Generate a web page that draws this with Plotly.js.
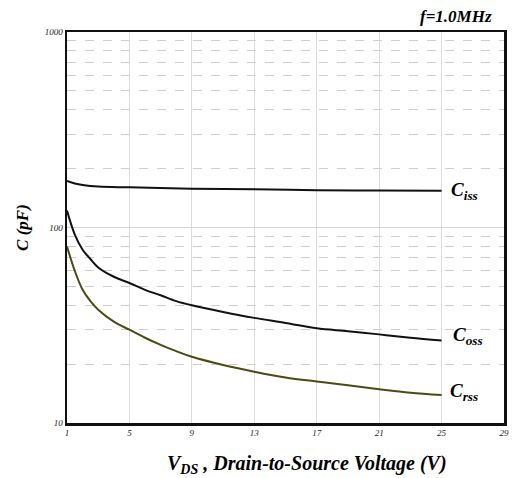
<!DOCTYPE html>
<html><head><meta charset="utf-8">
<script src="https://cdn.plot.ly/plotly-3.0.1.min.js"></script>
<style>html,body{margin:0;padding:0;background:#fff}#c{width:512px;height:478px}</style>
</head><body><div id="c"></div>
<script>
const vdsCiss = [1, 1.5, 2, 3, 5, 9, 13, 17, 21, 25];
const ciss    = [173, 168, 165, 162, 160.5, 158, 157, 155, 154.5, 154];
const vds     = [1, 1.5, 2, 2.5, 3, 4, 5, 6, 7, 8, 9, 11, 13, 15, 17, 19, 21, 23, 25];
const coss    = [122, 92, 77, 69, 62.5, 56, 52, 48, 45, 42, 40, 37, 34.5, 32.5, 30.5, 29.5, 28.4, 27.3, 26.4];
const crss    = [80, 60, 48, 42, 38, 33, 30, 27.3, 25.1, 23.3, 21.8, 19.8, 18.3, 17.1, 16.3, 15.6, 14.9, 14.3, 13.9];
const xTicks  = [1, 5, 9, 13, 17, 21, 25, 29];
const yTicks  = [10, 100, 1000];
const yTickText = ['10', '100', '1000'];
const yMinor  = [20,30,40,50,60,70,80,90,200,300,400,500,600,700,800,900];

const serif = 'Liberation Serif, Times New Roman, serif';
const traces = [
  {x: vdsCiss, y: ciss, name: 'Ciss', mode: 'lines', line: {color: '#111', width: 2, shape: 'spline'}},
  {x: vds, y: coss, name: 'Coss', mode: 'lines', line: {color: '#111', width: 2, shape: 'spline'}},
  {x: vds, y: crss, name: 'Crss', mode: 'lines', line: {color: '#4b4b14', width: 2, shape: 'spline'}}
];
const lab = (t, x, y) => ({text: '<b><i>C<sub>' + t + '</sub></i></b>', x: x, y: y, xref: 'x', yref: 'y',
  xanchor: 'left', yanchor: 'middle', showarrow: false, font: {family: serif, size: 19, color: '#000'}});
const layout = {
  width: 512, height: 478,
  margin: {l: 67, r: 8, t: 32, b: 55},
  paper_bgcolor: '#fff', plot_bgcolor: '#fff',
  showlegend: false,
  xaxis: {
    range: [1, 29], tickmode: 'array', tickvals: xTicks,
    showgrid: true, gridcolor: '#dcdcdc', gridwidth: 1,
    showline: true, mirror: true, linecolor: '#111', linewidth: 2.5,
    zeroline: false, ticks: '',
    tickfont: {family: serif, size: 9, style: 'italic', color: '#222'}
  },
  yaxis: {
    type: 'log', range: [1, 3], tickmode: 'array', tickvals: yTicks, ticktext: yTickText,
    showgrid: true, gridcolor: '#d6d6d6', gridwidth: 1,
    minor: {tickmode: 'array', tickvals: yMinor, showgrid: true, gridcolor: '#cfcfcf', griddash: 'dash', gridwidth: 1, ticks: ''},
    showline: true, mirror: true, linecolor: '#111', linewidth: 2.5,
    zeroline: false, ticks: '',
    tickfont: {family: serif, size: 9, style: 'italic', color: '#222'},
    title: {text: '<b><i>C (pF)</i></b>', font: {family: serif, size: 17, color: '#000'}, standoff: 12}
  },
  annotations: [
    lab('iss', 25.5, Math.log10(154)),
    lab('oss', 25.6, Math.log10(27.8)),
    lab('rss', 25.4, Math.log10(14.4)),
    {text: '<b><i>f=1.0MHz</i></b>', xref: 'paper', yref: 'paper', x: 1, y: 1, xanchor: 'right', yanchor: 'bottom',
     yshift: 4, xshift: -10, showarrow: false, font: {family: serif, size: 17, color: '#000'}},
    {text: '<b><i>V<sub>DS</sub> , Drain-to-Source Voltage (V)</i></b>', xref: 'paper', yref: 'paper',
     x: 0.55, y: 0, xanchor: 'center', yanchor: 'top', yshift: -27, showarrow: false,
     font: {family: serif, size: 20, color: '#000'}}
  ]
};
Plotly.newPlot('c', traces, layout, {displayModeBar: false, staticPlot: true});
</script></body></html>
